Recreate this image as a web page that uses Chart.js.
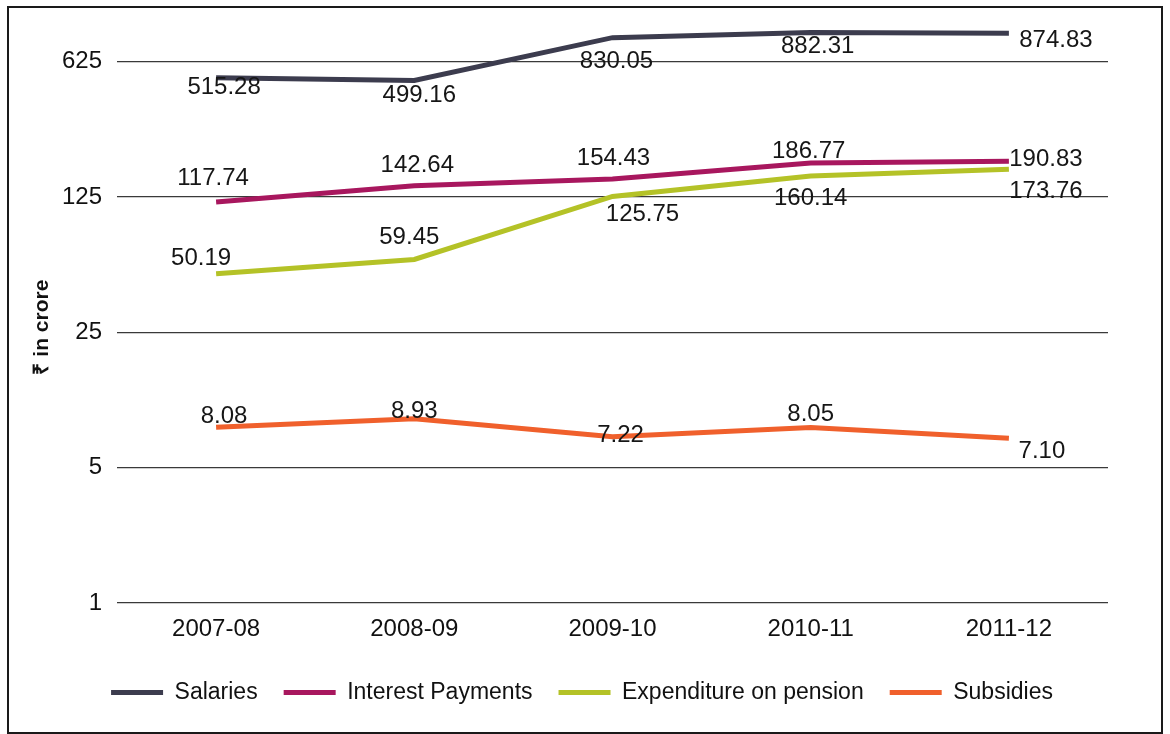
<!DOCTYPE html>
<html>
<head>
<meta charset="utf-8">
<script src="https://cdn.jsdelivr.net/npm/chart.js@4"></script>
<style>
  html, body { margin: 0; padding: 0; background: #fff; }
  #wrap { position: relative; width: 1170px; height: 734px; }
  #frame { position: absolute; left: 7px; top: 6px; width: 1156px; height: 728px; box-sizing: border-box; border: 2px solid #1a1a1a; pointer-events: none; }
  canvas { position: absolute; left: 0; top: 0; }
</style>
</head>
<body>
<div id="wrap">
  <canvas id="c" width="1170" height="734"></canvas>
  <div id="frame"></div>
</div>
<script>
// ---- data ----
const years = ['2007-08', '2008-09', '2009-10', '2010-11', '2011-12'];
const salaries = [515.28, 499.16, 830.05, 882.31, 874.83];
const interestPayments = [117.74, 142.64, 154.43, 186.77, 190.83];
const pension = [50.19, 59.45, 125.75, 160.14, 173.76];
const subsidies = [8.08, 8.93, 7.22, 8.05, 7.10];
const yTicks = [1, 5, 25, 125, 625];
const seriesNames = ['Salaries', 'Interest Payments', 'Expenditure on pension', 'Subsidies'];

// ---- presentation ----
const colors = ['#3c3c4e', '#a8175e', '#b4c227', '#f0602c'];
// label offsets (dx, dy) in px from each point
const labelOffsets = [
  [[8, 10], [5, 15], [4, 24], [7, 14], [47, 7]],
  [[-3, -24], [3, -20], [1, -21], [-2, -12], [37, -2]],
  [[-15, -15], [-5, -22], [30, 18], [0, 22], [37, 22]],
  [[8, -11], [0, -7], [8, -1], [0, -13], [33, 13]]
];
const FONT = "'Liberation Sans', Arial, sans-serif";

const seriesData = [salaries, interestPayments, pension, subsidies];

const valueLabels = {
  id: 'valueLabels',
  afterDatasetsDraw(chart) {
    const ctx = chart.ctx;
    ctx.save();
    ctx.font = "24px " + FONT;
    ctx.fillStyle = '#161616';
    ctx.textAlign = 'center';
    ctx.textBaseline = 'middle';
    chart.data.datasets.forEach((ds, di) => {
      const meta = chart.getDatasetMeta(di);
      meta.data.forEach((pt, i) => {
        const off = labelOffsets[di][i];
        ctx.fillText(ds.data[i].toFixed(2), pt.x + off[0], pt.y + off[1]);
      });
    });
    ctx.restore();
  }
};

new Chart(document.getElementById('c'), {
  type: 'line',
  data: {
    labels: years,
    datasets: seriesData.map((d, i) => ({
      label: seriesNames[i],
      data: d,
      borderColor: colors[i],
      backgroundColor: colors[i],
      borderWidth: 5,
      pointRadius: 0,
      tension: 0,
      fill: false
    }))
  },
  options: {
    responsive: false,
    animation: false,
    layout: { padding: { left: 56, right: 62, top: 22, bottom: 20 } },
    plugins: {
      tooltip: { enabled: false },
      legend: {
        position: 'bottom',
        labels: {
          font: { family: FONT, size: 23 },
          color: '#111',
          boxWidth: 52,
          boxHeight: 5,
          padding: 26,
          generateLabels(chart) {
            return chart.data.datasets.map((ds, i) => ({
              text: ds.label,
              fillStyle: ds.borderColor,
              strokeStyle: ds.borderColor,
              lineWidth: 0,
              fontColor: '#111',
              datasetIndex: i,
              hidden: false
            }));
          }
        }
      }
    },
    scales: {
      x: {
        type: 'category',
        offset: true,
        grid: { display: false, drawTicks: false },
        border: { display: false },
        ticks: { font: { family: FONT, size: 24 }, color: '#111', padding: 12 },
        afterFit(scale) { scale.height = 52; }
      },
      y: {
        type: 'logarithmic',
        min: 1,
        max: 1000,
        afterBuildTicks(scale) { scale.ticks = yTicks.map(v => ({ value: v })); },
        grid: { color: '#3a3a3a', lineWidth: 1.2, drawTicks: false },
        border: { display: false },
        ticks: {
          font: { family: FONT, size: 24 },
          color: '#111',
          padding: 15,
          callback: (v) => String(v)
        },
        title: {
          display: true,
          text: '₹ in crore     ',
          font: { family: FONT, size: 21, weight: 'bold' },
          color: '#111',
          padding: { top: -26, bottom: 0 }
        },
        afterFit(scale) {
          scale.width = 61;
          scale.paddingTop = 0;
          scale.paddingBottom = 0;
        }
      }
    }
  },
  plugins: [valueLabels]
});
</script>
</body>
</html>
